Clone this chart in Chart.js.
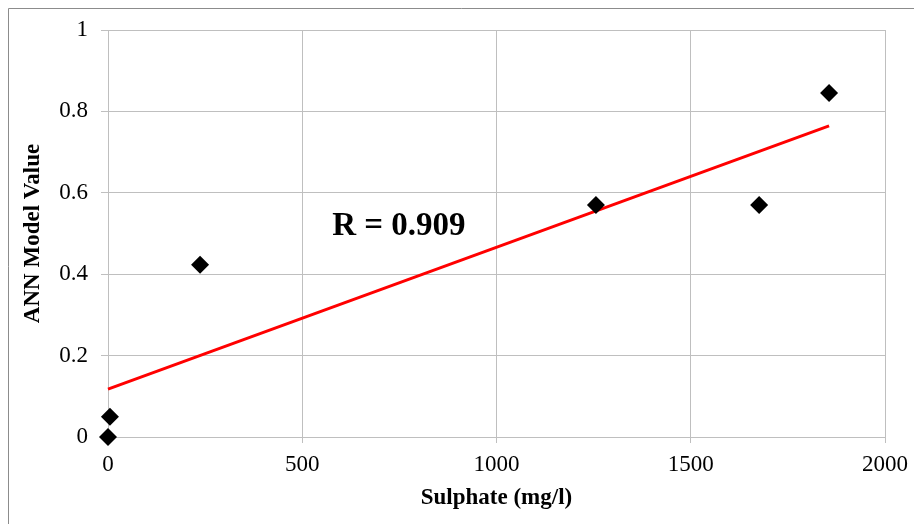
<!DOCTYPE html>
<html>
<head>
<meta charset="utf-8">
<script src="https://cdn.jsdelivr.net/npm/chart.js@4"></script>
<style>
  html, body { margin: 0; padding: 0; background: #fff; }
  #wrap { position: relative; width: 914px; height: 524px; }
</style>
</head>
<body>
<div id="wrap"><canvas id="annChart" width="914" height="524"></canvas></div>
<script>
const sulphate = [0, 5, 237, 1256, 1676, 1856];
const annValue = [0, 0.05, 0.423, 0.57, 0.57, 0.845];
const xTicks = [0, 500, 1000, 1500, 2000];
const yTicks = [0, 0.2, 0.4, 0.6, 0.8, 1];
const rLabel = "R = 0.909";

// least squares fit for the trend line
function linearFit(xs, ys) {
  const n = xs.length;
  const mx = xs.reduce((a, b) => a + b, 0) / n;
  const my = ys.reduce((a, b) => a + b, 0) / n;
  let sxy = 0, sxx = 0;
  for (let i = 0; i < n; i++) {
    sxy += (xs[i] - mx) * (ys[i] - my);
    sxx += (xs[i] - mx) * (xs[i] - mx);
  }
  const slope = sxy / sxx;
  return { slope: slope, intercept: my - slope * mx };
}

const fit = linearFit(sulphate, annValue);
const xMin = Math.min(...sulphate);
const xMax = Math.max(...sulphate);
const trend = [
  { x: xMin, y: fit.intercept + fit.slope * xMin },
  { x: xMax, y: fit.intercept + fit.slope * xMax }
];

const points = sulphate.map((x, i) => ({ x: x, y: annValue[i] }));

const FONT = "'Liberation Serif', 'Times New Roman', serif";
const GRID = "#bfbfbf";

// frame around the chart + R annotation
const extras = {
  id: "extras",
  beforeDraw(chart) {
    const ctx = chart.ctx;
    ctx.save();
    ctx.strokeStyle = "#8c8c8c";
    ctx.lineWidth = 1;
    ctx.beginPath();
    ctx.moveTo(8.5, chart.height);
    ctx.lineTo(8.5, 8.5);
    ctx.lineTo(chart.width, 8.5);
    ctx.stroke();
    ctx.restore();
  },
  afterDraw(chart) {
    const ctx = chart.ctx;
    const xs = chart.scales.x, ys = chart.scales.y;
    ctx.save();
    ctx.font = "bold 33px " + FONT;
    ctx.fillStyle = "#000";
    ctx.textAlign = "left";
    ctx.textBaseline = "alphabetic";
    ctx.fillText(rLabel, xs.getPixelForValue(577), ys.getPixelForValue(0.496));
    ctx.restore();
  }
};

new Chart(document.getElementById("annChart"), {
  type: "scatter",
  data: {
    datasets: [
      {
        type: "line",
        data: trend,
        borderColor: "#ff0000",
        borderWidth: 3,
        pointRadius: 0,
        fill: false,
        clip: false,
        order: 2
      },
      {
        data: points,
        pointStyle: "rectRot",
        pointRadius: 9,
        backgroundColor: "#000",
        borderColor: "#000",
        borderWidth: 0,
        clip: false,
        order: 1
      }
    ]
  },
  options: {
    responsive: false,
    animation: false,
    layout: { padding: { left: 0, right: 29, top: 30, bottom: 0 } },
    plugins: {
      legend: { display: false },
      tooltip: { enabled: false }
    },
    scales: {
      x: {
        type: "linear",
        min: 0,
        max: 2000,
        afterBuildTicks: (scale) => { scale.ticks = xTicks.map(v => ({ value: v })); },
        afterFit: (scale) => {
          scale.height = 87;
          scale.paddingLeft = 0;
          scale.paddingRight = 0;
        },
        grid: { color: GRID, tickColor: GRID, tickLength: 6, lineWidth: 1 },
        border: { color: GRID },
        ticks: {
          color: "#000",
          font: { family: FONT, size: 23 },
          padding: 8,
          maxRotation: 0,
          callback: (v) => String(v)
        },
        title: {
          display: true,
          text: "Sulphate (mg/l)",
          color: "#000",
          font: { family: FONT, size: 23, weight: "bold" },
          padding: { top: 0, bottom: 12 }
        }
      },
      y: {
        type: "linear",
        min: 0,
        max: 1,
        afterBuildTicks: (scale) => { scale.ticks = yTicks.map(v => ({ value: v })); },
        afterFit: (scale) => { scale.width = 108; },
        grid: { color: GRID, tickColor: GRID, tickLength: 7, lineWidth: 1 },
        border: { color: GRID },
        ticks: {
          color: "#000",
          font: { family: FONT, size: 23 },
          padding: 13,
          callback: (v) => String(v)
        },
        title: {
          display: true,
          text: "ANN Model Value",
          color: "#000",
          font: { family: FONT, size: 23, weight: "bold" },
          padding: { top: 19, bottom: 0 }
        }
      }
    }
  },
  plugins: [extras]
});
</script>
</body>
</html>
